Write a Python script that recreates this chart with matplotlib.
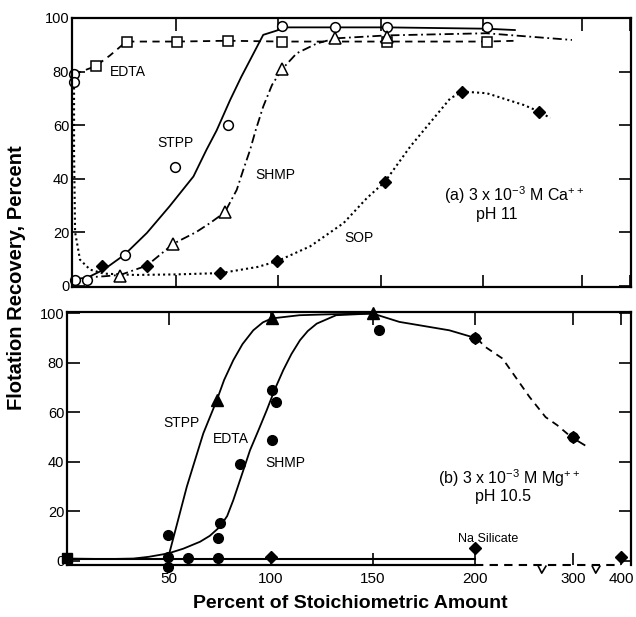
import numpy as np
import matplotlib
matplotlib.use("Agg")
import matplotlib.pyplot as plt
from matplotlib.path import Path

plt.rcParams['font.family'] = ['Liberation Sans', 'DejaVu Sans']
plt.rcParams['mathtext.default'] = 'regular'

# -- Broken x axis: linear to 200, then 200-300 and 300-400 compressed
def fwd(x):
    x = np.asarray(x, float)
    return np.where(x <= 200, x, np.where(x <= 300, 200 + (x - 200) * 0.48, 248 + (x - 300) * 0.235))

def inv(u):
    u = np.asarray(u, float)
    return np.where(u <= 200, u, np.where(u <= 248, 200 + (u - 200) / 0.48, 300 + (u - 248) / 0.235))

xticks = [50, 100, 150, 200, 300, 400]
yticks = [0, 20, 40, 60, 80, 100]

# -- (a) Ca++ : measured points
ca_none_x = [0.5, 0.5]
ca_none_y = [79, 76]
ca_stpp_x = [1, 6.7, 25.4, 49.8, 75.6, 101.8, 127.8, 153, 203.4]
ca_stpp_y = [2.2, 2.2, 11.6, 44.5, 60, 97, 96.8, 96.8, 96.8]
ca_edta_x = [11.2, 26.2, 50.6, 75.6, 101.8, 153, 203.4]
ca_edta_y = [82, 91.2, 91.2, 91.5, 91.2, 91.2, 91.2]
ca_shmp_x = [22.9, 48.9, 74.1, 101.8, 127.8, 153]
ca_shmp_y = [3.7, 15.7, 27.4, 80.8, 92.4, 93]
ca_sop_x = [14, 36.3, 71.7, 99.4, 152, 189.6, 257]
ca_sop_y = [7.5, 7.5, 4.7, 9.1, 38.8, 72.5, 65]

# -- (a) Ca++ : hand drawn curves
ca_stpp_cx = [1, 7, 15, 25, 36, 47, 58.7, 65, 70, 76.6, 82, 86.3, 92.7, 99.3, 103, 128, 153, 203, 232]
ca_stpp_cy = [2.5, 3, 6, 11.5, 19.7, 29.6, 40.8, 50.7, 58, 69.4, 78, 84.3, 93.7, 95.3, 96.5, 96.5, 96.5, 96, 95.5]
ca_shmp_cx = [5, 15, 23, 36, 49, 60, 66.8, 74, 79.8, 83, 86.3, 89, 92.7, 97, 101.8, 109, 118.9, 128, 153, 203, 290]
ca_shmp_cy = [3, 3.5, 4, 7.5, 15.7, 20, 23.4, 27.4, 35.8, 43.3, 50.7, 58, 66.9, 75, 80.8, 86.8, 90.5, 92.4, 93.5, 94.3, 91.8]
ca_edta_cx = [0.5, 11, 18, 26, 50.6, 75.6, 101.8, 153, 203, 234]
ca_edta_cy = [79, 82, 86, 91.2, 91.2, 91.5, 91.2, 91.2, 91.2, 91.5]
ca_sop_cx = [0.5, 0.5, 1, 3.4, 8.3, 15, 30, 50, 72, 90, 99.4, 115.6, 131.9, 143.2, 152, 164.4, 183.9, 190, 203.4, 241, 257, 268]
ca_sop_cy = [76, 50, 20, 9.7, 6, 4.5, 4, 4.2, 4.7, 7, 9.1, 14.7, 23.4, 32.7, 38.8, 52, 70, 72.5, 71.9, 67.5, 65, 62.6]

# -- (b) Mg++ : measured points
mg_stpp_x = [73.4, 100.3, 149.8]
mg_stpp_y = [64.8, 97.9, 99.9]
mg_dot_x = [49.7, 49.7, 49.7, 59.4, 74.2, 74.2, 75, 84.8, 100.3, 100.3, 102.5, 153, 200, 300]
mg_dot_y = [10.3, 1.5, -2.5, 0.9, 0.9, 9, 15.3, 39, 48.7, 68.9, 64.2, 93.4, 90, 50]
mg_both_x = [200, 300]
mg_both_y = [90, 50]
mg_sil_x = [100, 200, 400]
mg_sil_y = [1.5, 4.9, 1.5]
mg_zero_x = [0]
mg_zero_y = [0.9]

# -- (b) Mg++ : hand drawn curves
mg_stpp_cx = [49.7, 54, 58.7, 62.7, 66.8, 73.4, 77, 81.5, 86, 91.3, 96, 100.3, 114, 130, 149.8]
mg_stpp_cy = [1.5, 15, 29.8, 40.5, 51.4, 64.8, 73, 81, 87.5, 93.1, 96.3, 97.9, 99.2, 99.6, 99.9]
mg_shmp_cx = [0, 20, 32.5, 40, 49.7, 57, 65.2, 70, 75, 78.5, 81.5, 85, 89.7, 94, 97.9, 102, 106, 110, 114.2, 118,
              122.4, 131.9, 149.8, 162.9, 187.4, 202]
mg_shmp_cy = [0.8, 0.6, 0.8, 1.5, 2.9, 4.8, 7.6, 10, 13.7, 18, 24.4, 33, 44.6, 53, 60.8, 69.5, 77, 83.5, 89.1, 92.8,
              95.8, 99.2, 99.9, 96.5, 93.1, 89.8]
mg_tail_dx = [202, 210, 228, 255.5, 272, 284, 298]
mg_tail_dy = [89.8, 86.5, 81.7, 66.2, 58, 54.7, 50]
mg_tail_sx = [298, 324]
mg_tail_sy = [50, 46.7]
mg_sil_cx = [0, 200]
mg_sil_cy = [0.6, 0.6]
mg_sil_dx = [200, 400]
mg_sil_dy = [-1.6, -1.6]
break_x = [268, 347]

# -- Figure
W, H = 636., 617.
fig = plt.figure(figsize=(W / 100, H / 100), dpi=100)
ax1 = fig.add_axes([72 / W, 1 - 287 / H, (631 - 72) / W, (287 - 18) / H])
ax2 = fig.add_axes([67 / W, 1 - 565 / H, (631 - 67) / W, (565 - 312) / H])

for ax in (ax1, ax2):
    ax.set_xscale('function', functions=(fwd, inv))
    ax.set_xticks(xticks)
    ax.set_yticks(yticks)
    ax.minorticks_off()
    ax.tick_params(direction='in', length=9, width=1.2, top=True, right=True, pad=2)
    ax.tick_params(axis='y', labelsize=10.5)
    ax.tick_params(axis='x', labelsize=11, pad=5)
    for s in ax.spines.values():
        s.set_linewidth(1.6)

ax1.set_xlim(-0.5, 402)
ax1.set_ylim(-0.5, 100)
ax1.tick_params(axis='x', labelbottom=False)
ax2.set_xlim(0, 421)
ax2.set_ylim(-1.8, 100.5)

lw = 1.3
ms = 7

# -- panel (a)
ax1.plot(ca_stpp_cx, ca_stpp_cy, '-', color='k', lw=lw)
ax1.plot(ca_shmp_cx, ca_shmp_cy, color='k', lw=lw, ls=(0, (5, 2, 1, 2)))
ax1.plot(ca_edta_cx, ca_edta_cy, color='k', lw=lw, ls=(0, (4, 3)))
ax1.plot(ca_sop_cx, ca_sop_cy, color='k', lw=1.5, ls=(0, (1, 1.5)))

ax1.plot(ca_none_x, ca_none_y, 'o', mfc='white', mec='k', ms=ms, mew=1.1, clip_on=False)
ax1.plot(ca_stpp_x, ca_stpp_y, 'o', mfc='white', mec='k', ms=ms, mew=1.1, clip_on=False)
ax1.plot(ca_edta_x, ca_edta_y, 's', mfc='white', mec='k', ms=6.5, mew=1.1)
ax1.plot(ca_shmp_x, ca_shmp_y, '^', mfc='white', mec='k', ms=8, mew=1.1)
ax1.plot(ca_sop_x, ca_sop_y, 'D', mfc='k', mec='k', ms=6.5)

ax1.text(18, 80, 'EDTA', fontsize=10, va='center')
ax1.text(41, 53.4, 'STPP', fontsize=10, va='center')
ax1.text(89, 41.4, 'SHMP', fontsize=10, va='center')
ax1.text(132, 17.9, 'SOP', fontsize=10, va='center')
ax1.text(181, 34, r'(a) 3 x 10$^{-3}$ M Ca$^{++}$', fontsize=11.5, va='center')
ax1.text(214, 26.5, 'pH 11', fontsize=11.5, va='center', ha='center')

# -- panel (b)
ax2.spines['bottom'].set_bounds(0, 200)
ax2.plot(mg_stpp_cx, mg_stpp_cy, '-', color='k', lw=lw)
ax2.plot(mg_shmp_cx, mg_shmp_cy, '-', color='k', lw=lw)
ax2.plot(mg_tail_dx, mg_tail_dy, color='k', lw=lw, ls=(0, (4, 3)))
ax2.plot(mg_tail_sx, mg_tail_sy, '-', color='k', lw=lw)
ax2.plot(mg_sil_cx, mg_sil_cy, '-', color='k', lw=1.5)
ax2.plot(mg_sil_dx, mg_sil_dy, color='k', lw=1.5, ls=(0, (4, 3)), clip_on=False)

vee = Path([(-0.6, 0), (-0.1, -1.0), (0.5, 0)], [Path.MOVETO, Path.LINETO, Path.LINETO])
ax2.plot(break_x, [-1.6] * len(break_x), ls='none', marker=vee, ms=11, mfc='none', mec='k', mew=1.2,
         clip_on=False)

ax2.plot(mg_dot_x, mg_dot_y, 'o', color='k', ms=ms, clip_on=False)
ax2.plot(mg_stpp_x, mg_stpp_y, '^', color='k', ms=8, clip_on=False)
ax2.plot(mg_both_x, mg_both_y, 'D', color='k', ms=6, clip_on=False)
ax2.plot(mg_sil_x, mg_sil_y, 'D', color='k', ms=6.5, clip_on=False)
ax2.plot(mg_zero_x, mg_zero_y, 's', color='k', ms=6.5, clip_on=False)

ax2.text(47, 55.6, 'STPP', fontsize=10, va='center')
ax2.text(71.5, 49, 'EDTA', fontsize=10, va='center')
ax2.text(97, 39.4, 'SHMP', fontsize=10, va='center')
ax2.text(191.7, 8.7, 'Na Silicate', fontsize=9, va='center')
ax2.text(182, 33.5, r'(b) 3 x 10$^{-3}$ M Mg$^{++}$', fontsize=11.5, va='center')
ax2.text(228.5, 26, 'pH 10.5', fontsize=11.5, va='center', ha='center')

fig.text(17 / W, 1 - 278 / H, 'Flotation Recovery, Percent', rotation=90, fontsize=14.5,
         fontweight='bold', ha='center', va='center')
fig.text(350 / W, 1 - 603 / H, 'Percent of Stoichiometric Amount', fontsize=14,
         fontweight='bold', ha='center', va='center')

fig.savefig('out.png', dpi=100)
